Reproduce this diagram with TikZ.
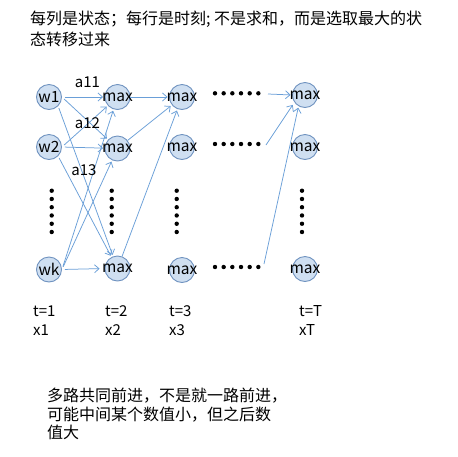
\documentclass[tikz,border=0pt]{standalone}
\usepackage{fontspec}
\setmainfont{Noto Sans CJK SC}
\usetikzlibrary{arrows.meta}
\definecolor{cfill}{HTML}{CFDFF1}
\definecolor{cdraw}{HTML}{7093C0}
\definecolor{arr}{HTML}{6A9FD8}
\begin{document}
\begin{tikzpicture}[x=1pt,y=-1pt,
  st/.style={circle,fill=cfill,draw=cdraw,line width=0.9pt,minimum size=25pt,inner sep=0pt,font=\fontsize{15.5}{15.5}\selectfont},
  ar/.style={draw=arr,line width=0.75pt,-{Straight Barb[length=4.5pt,width=8pt]},shorten >=1.5pt},
  txt/.style={anchor=base west,inner sep=0pt,font=\fontsize{16}{16}\selectfont},
  lt/.style={anchor=base west,inner sep=0pt,font=\fontsize{15}{15}\selectfont},
  lbl/.style={inner sep=0pt,font=\fontsize{15}{15}\selectfont}]
\useasboundingbox[fill=white] (0,0) rectangle (458,456);

% title
\node[txt] (ti1) at (30,24) {每列是状态；每行是时刻; 不是求和，而是选取最大的状};
\node[txt] (ti2) at (30,45) {态转移过来};

% column 1
\node[st] (w1) at (49,97) {\makebox[0pt]{w1}};
\node[st] (w2) at (49,147) {\makebox[0pt]{w2}};
\node[st] (wk) at (49,269.5) {\makebox[0pt]{wk}};
% column 2
\node[st] (b1) at (117.5,97) {\makebox[0pt]{max}};
\node[st] (b2) at (117.5,148.5) {\makebox[0pt]{max}};
\node[st] (b3) at (117.5,268.5) {\makebox[0pt]{max}};
% column 3
\node[st] (c1) at (182,97) {\makebox[0pt]{max}};
\node[st] (c2) at (182,147) {\makebox[0pt]{max}};
\node[st] (c3) at (182,270) {\makebox[0pt]{max}};
% column T
\node[st] (d1) at (305,95) {\makebox[0pt]{max}};
\node[st] (d2) at (305,147) {\makebox[0pt]{max}};
\node[st] (d3) at (305,269) {\makebox[0pt]{max}};

% vertical dots
\foreach \x in {51.7,111.7,176.7,302}
  \foreach \i in {0,...,5}
    \fill (\x,190.7+8.26*\i) circle (2.2pt);
% horizontal dots
\foreach \y in {93.3,144,267}
  \foreach \i in {0,...,5}
    \fill (215+8.67*\i,\y) circle (2.2pt);

\coordinate (h1) at (268,94);
\coordinate (h2) at (266,145);
\coordinate (h3) at (264,264);

% column 1 -> column 2
\draw[ar,shorten <=3pt] (w1.east) -- (b1);
\draw[ar,shorten <=3pt] (w1.east) -- (b2);
\draw[ar,shorten <=2pt] (w1.-45) -- (b3);
\draw[ar,shorten <=3pt] (w2.east) -- (b1);
\draw[ar,shorten <=3pt] (w2.east) -- (b2);
\draw[ar,shorten <=2pt] (w2.-45) -- (b3);
\draw[ar,shorten <=3pt] (wk.east) -- (b1);
\draw[ar,shorten <=3pt] (wk.east) -- (b2);
\draw[ar,shorten <=3pt,shorten >=5pt] (wk.east) -- (b3.west);

% column 2 -> column 3
\draw[ar] (b1) -- (c1);
\draw[ar] (b2) -- (c1);
\draw[ar] (b3) -- (c1);

% into column T
\draw[ar] (h1) -- (d1.west);
\draw[ar,shorten >=3pt] (h2) -- (d1.215);
\draw[ar] (h3) -- (d1.240);

% labels
\node[lbl] (a11) at (87.5,82) {a11};
\node[lbl] (a12) at (87.5,123) {a12};
\node[lbl] (a13) at (84,170) {a13};

\node[lt] (t1) at (33,316) {t=1};
\node[lt] (x1) at (33,335) {x1};
\node[lt] (t2) at (105,316) {t=2};
\node[lt] (x2) at (105,335) {x2};
\node[lt] (t3) at (169,316) {t=3};
\node[lt] (x3) at (169,335) {x3};
\node[lt] (tT) at (299,316) {t=T};
\node[lt] (xT) at (299,335) {xT};

% bottom text
\node[txt] (n1) at (47,401.5) {多路共同前进，不是就一路前进，};
\node[txt] (n2) at (47,420) {可能中间某个数值小，但之后数};
\node[txt] (n3) at (47,438.5) {值大};
\end{tikzpicture}
\end{document}
